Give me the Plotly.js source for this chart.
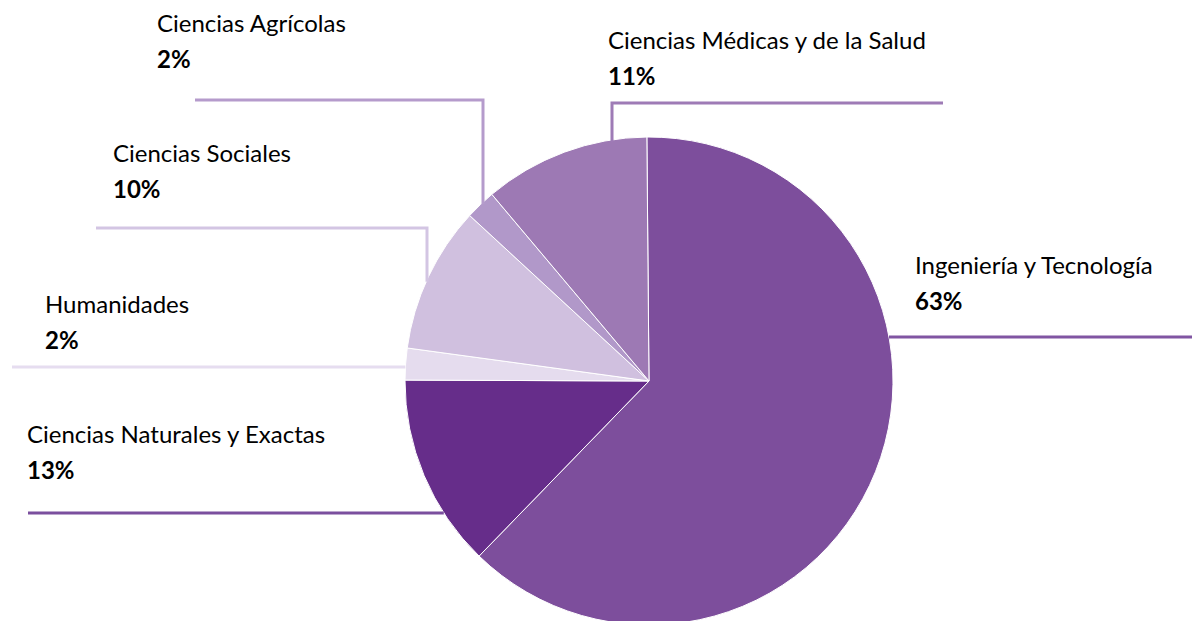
<!DOCTYPE html>
<html>
<head>
<meta charset="utf-8">
<script src="https://cdn.plot.ly/plotly-3.0.1.min.js"></script>
<style>
  html, body { margin: 0; padding: 0; overflow: hidden; background: #fff; }
  #chart { width: 1192px; height: 630px; }
</style>
</head>
<body>
<div id="chart"></div>
<script>
"use strict";

// Areas of knowledge, clockwise from 12 o'clock
const areas = ["Ingeniería y Tecnología", "Ciencias Naturales y Exactas", "Humanidades",
               "Ciencias Sociales", "Ciencias Agrícolas", "Ciencias Médicas y de la Salud"];
const shares = [62.4, 12.8, 2.1, 9.7, 2.0, 11.0];     // percent
const pctLabels = ["63%", "13%", "2%", "10%", "2%", "11%"];
const sliceColors = ["#7d4e9c", "#662d8a", "#e5dcee", "#d0c0df", "#b198c9", "#9d79b4"];
const lineColors  = ["#8055a2", "#7b4f9e", "#e6ddf0", "#d3c5e3", "#b59bcc", "#9e7bb6"];

const W = 1192, H = 630;          // plot div size in px
const cx = 649, cy = 381, r = 244; // pie geometry in px

const px = (x) => x / W;
const py = (y) => 1 - y / H;

// label position (left x, baseline of name) and leader line route, per area
const labelPos = [[914, 273], [26, 442], [44, 312], [112, 161], [156, 31], [607, 48]];
const leaders = [
  {kind: "h", y: 337, end: 1192, side: 1},
  {kind: "h", y: 513, end: 28, side: -1},
  {kind: "h", y: 367, end: 12, side: -1},
  {kind: "v", x: 427, y: 228, end: 96},
  {kind: "v", x: 483, y: 100, end: 195},
  {kind: "v", x: 612, y: 103, end: 943}
];

const fontFam = "Lato, 'Open Sans', sans-serif";
const fsz = 24;

let shapes = [];
let annotations = [];

leaders.forEach((ld, i) => {
  let pts;
  if (ld.kind === "h") {
    let ex = cx + ld.side * Math.sqrt(r * r - (ld.y - cy) * (ld.y - cy));
    pts = [[ex, ld.y], [ld.end, ld.y]];
  } else {
    let ey = cy - Math.sqrt(r * r - (ld.x - cx) * (ld.x - cx));
    pts = [[ld.x, ey + 2], [ld.x, ld.y], [ld.end, ld.y]];
  }
  let path = pts.map((p, k) => (k ? "L" : "M") + px(p[0]) + "," + py(p[1])).join(" ");
  shapes.push({type: "path", xref: "paper", yref: "paper", path: path,
               line: {color: lineColors[i], width: 3}});

  let [lx, ly] = labelPos[i];
  annotations.push({text: areas[i], xref: "paper", yref: "paper", borderpad: 0,
                    x: px(lx), y: py(ly - 0.36 * fsz), xanchor: "left", yanchor: "middle",
                    showarrow: false, font: {family: fontFam, size: fsz, color: "#000"}});
  annotations.push({text: "<b>" + pctLabels[i] + "</b>", xref: "paper", yref: "paper", borderpad: 0,
                    x: px(lx), y: py(ly + 36 - 0.36 * fsz), xanchor: "left", yanchor: "middle",
                    showarrow: false, font: {family: fontFam, size: fsz, color: "#000"}});
});

const trace = {
  type: "pie",
  labels: areas,
  values: shares,
  sort: false,
  direction: "clockwise",
  rotation: -0.5,
  textinfo: "none",
  hoverinfo: "label+percent",
  automargin: false,
  marker: {colors: sliceColors, line: {color: "#ffffff", width: 1}},
  domain: {x: [px(cx - r), px(cx + r)], y: [py(cy + r), py(cy - r)]}
};

const layout = {
  width: W, height: H,
  margin: {l: 0, r: 0, t: 0, b: 0},
  showlegend: false,
  paper_bgcolor: "#ffffff",
  shapes: shapes,
  annotations: annotations
};

Plotly.newPlot("chart", [trace], layout, {displayModeBar: false, staticPlot: true});
</script>
</body>
</html>
